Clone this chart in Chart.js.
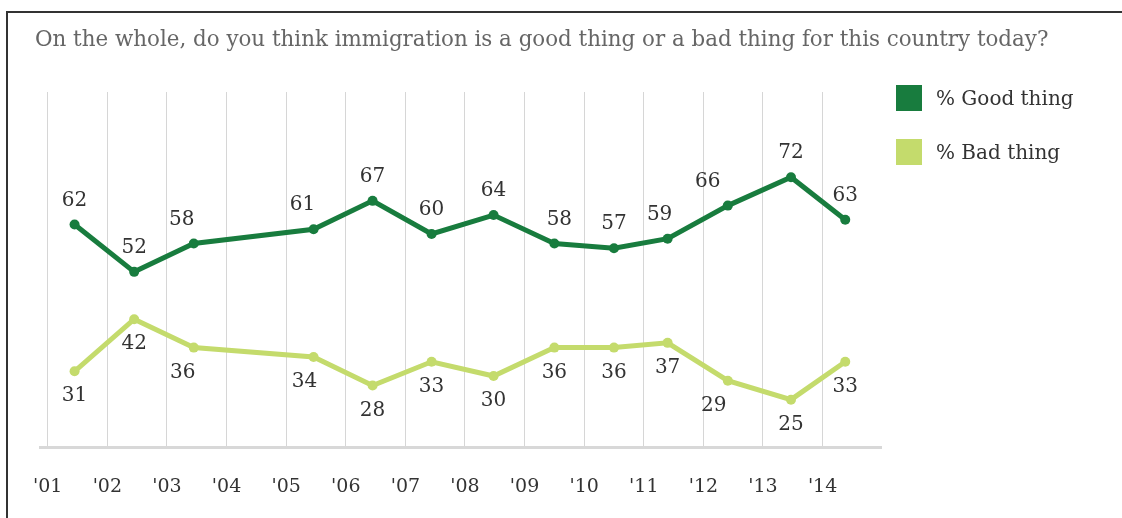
<!DOCTYPE html>
<html lang="en">
<head>
<meta charset="UTF-8">
<title>Immigration good or bad</title>
<script src="https://cdn.jsdelivr.net/npm/chart.js@4/dist/chart.umd.min.js"></script>
<style>
  body { margin: 0; background: #fff; }
  #wrap { width: 1122px; height: 518px; }
</style>
</head>
<body>
<div id="wrap"><canvas id="chart" width="1122" height="518"></canvas></div>
<script>
// poll dates (decimal years) and results
var pollDates = [2001.45, 2002.45, 2003.45, 2005.46, 2006.45, 2007.44, 2008.48, 2009.5, 2010.5, 2011.4, 2012.41, 2013.47, 2014.38];
var goodThing = [62, 52, 58, 61, 67, 60, 64, 58, 57, 59, 66, 72, 63];
var badThing = [31, 42, 36, 34, 28, 33, 30, 36, 36, 37, 29, 25, 33];
var yearTicks = [2001, 2002, 2003, 2004, 2005, 2006, 2007, 2008, 2009, 2010, 2011, 2012, 2013, 2014];
var seriesNames = ["% Good thing", "% Bad thing"];
var titleText = "On the whole, do you think immigration is a good thing or a bad thing for this country today?";

// label nudges so the numbers clear the lines (pixels)
var goodShift = [0, 0, -12, -11, 0, 0, 0, 5, 0, -8, -20, 0, 0];
var badShift = [0, 0, -11, -9, 0, 0, 0, 0, 0, 0, -14, 0, 0];

var darkGreen = "#187c3e";
var lightGreen = "#c4db6c";
var serif = "'DejaVu Serif', Georgia, serif";

function pts(vals) {
    return vals.map(function (v, i) { return { x: pollDates[i], y: v }; });
}

var decor = {
    id: "decor",
    beforeDraw: function (chart) {
        var c = chart.ctx;
        c.save();
        c.fillStyle = "#fff";
        c.fillRect(0, 0, chart.width, chart.height);
        // frame (top and left only)
        c.strokeStyle = "#333";
        c.lineWidth = 2;
        c.beginPath();
        c.moveTo(7, 518);
        c.lineTo(7, 12);
        c.lineTo(1122, 12);
        c.stroke();
        // title
        c.fillStyle = "#666";
        c.font = "21.4px " + serif;
        c.textBaseline = "alphabetic";
        c.textAlign = "left";
        c.fillText(titleText, 35, 46);
        // legend
        var cols = [darkGreen, lightGreen];
        var tops = [85, 139];
        c.font = "20px " + serif;
        for (var i = 0; i < 2; i++) {
            c.fillStyle = cols[i];
            c.fillRect(896, tops[i], 26, 26);
            c.fillStyle = "#333";
            c.fillText(seriesNames[i], 936, tops[i] + 20);
        }
        c.restore();
    },
    afterDatasetsDraw: function (chart) {
        var c = chart.ctx;
        c.save();
        c.font = "20px " + serif;
        c.fillStyle = "#333";
        c.textAlign = "center";
        c.textBaseline = "middle";
        var sets = [[goodThing, goodShift, -24], [badThing, badShift, 25]];
        sets.forEach(function (s, d) {
            var meta = chart.getDatasetMeta(d);
            meta.data.forEach(function (p, i) {
                c.fillText(String(s[0][i]), p.x + s[1][i], p.y + s[2]);
            });
        });
        c.restore();
    }
};

new Chart(document.getElementById("chart"), {
    type: "line",
    data: {
        datasets: [
            {
                label: seriesNames[0],
                data: pts(goodThing),
                borderColor: darkGreen,
                backgroundColor: darkGreen,
                borderWidth: 5,
                pointRadius: 5,
                pointBorderWidth: 0,
                tension: 0
            },
            {
                label: seriesNames[1],
                data: pts(badThing),
                borderColor: lightGreen,
                backgroundColor: lightGreen,
                borderWidth: 5,
                pointRadius: 5,
                pointBorderWidth: 0,
                tension: 0
            }
        ]
    },
    options: {
        responsive: false,
        animation: false,
        layout: { padding: { left: 40, right: 241, top: 92, bottom: 0 } },
        plugins: {
            legend: { display: false },
            title: { display: false },
            tooltip: { enabled: false }
        },
        scales: {
            x: {
                type: "linear",
                min: 2000.87,
                max: 2014.98,
                afterBuildTicks: function (scale) {
                    scale.ticks = yearTicks.map(function (v) { return { value: v }; });
                },
                afterFit: function (scale) { scale.height = 71; },
                grid: { color: "#d6d6d6", lineWidth: 1, drawTicks: false },
                border: { display: true, color: "#d8d8d8", width: 3 },
                ticks: {
                    padding: 29,
                    color: "#333",
                    font: { family: serif, size: 19 },
                    maxRotation: 0,
                    autoSkip: false,
                    callback: function (v) { return "'" + String(v).slice(2); }
                }
            },
            y: {
                display: false,
                min: 15,
                max: 90
            }
        }
    },
    plugins: [decor]
});
</script>
</body>
</html>
